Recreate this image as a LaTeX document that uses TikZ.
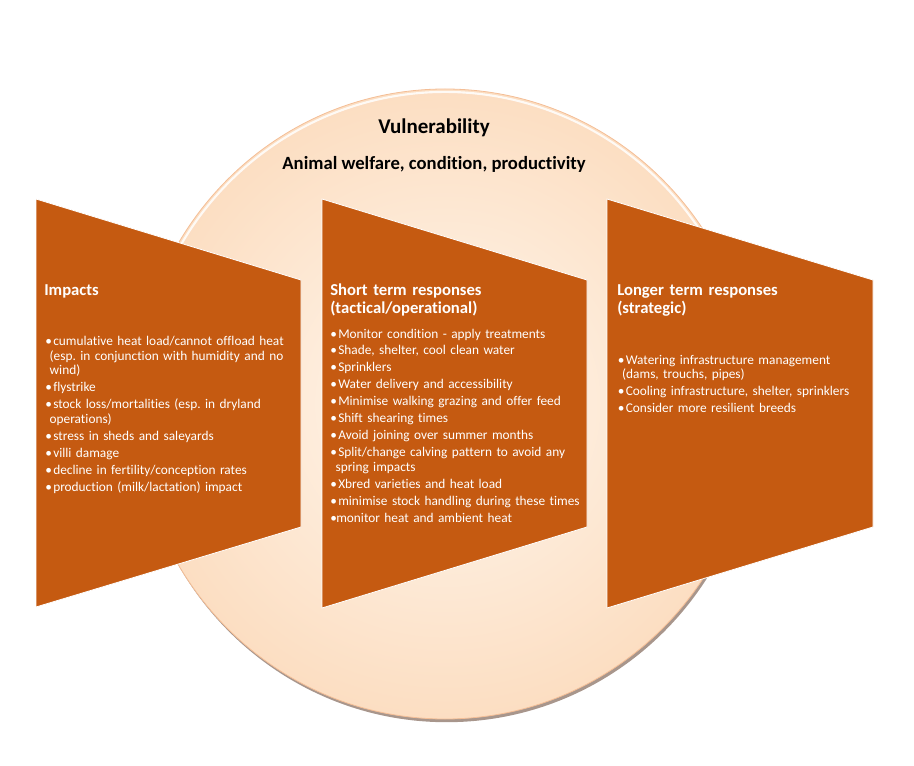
\documentclass[tikz,border=0pt]{standalone}
\usepackage{fontspec}
\setmainfont{Carlito}[Ligatures={TeX,NoCommon}]
\usepackage{xcolor}
\usepackage{tikz}
\usetikzlibrary{positioning,shadows}

\definecolor{boxorange}{HTML}{C55A11}
\definecolor{discin}{HTML}{FFF7EE}
\definecolor{discout}{HTML}{FCDEC2}
\definecolor{discrim}{HTML}{F4BE96}
\definecolor{discshadow}{HTML}{6E5040}

\newcommand{\bulletsize}{\fontsize{10pt}{11pt}\selectfont\frenchspacing}
\newcommand{\headsize}{\fontsize{12.5pt}{13.7pt}\selectfont\bfseries}
\newcommand{\cont}{\hspace*{3.3pt}}
\newcommand{\nextitem}{\\[1.7pt]}
\newcommand{\dotitem}{\makebox[6pt][l]{•}}
\newcommand{\tightdot}{\makebox[4.5pt][l]{•}}

\begin{document}
\begin{tikzpicture}[x=0.75pt, y=-0.75pt,
    panel/.style={fill=boxorange, draw=white, line width=0.6pt},
    heading/.style={anchor=north west, inner sep=0pt, text=white, align=left, text width=200pt, font=\headsize},
    items/.style={anchor=north west, inner sep=0pt, text=white, align=left, text width=205pt, font=\bulletsize},
    toptext/.style={anchor=base, inner sep=0pt, font=\bfseries}]
    \useasboundingbox (0,0) rectangle (914,766);

    % Disc
    \shade[inner color=discin, outer color=discout,
        drop shadow={shadow xshift=1.2pt, shadow yshift=-2.4pt, fill=discshadow, opacity=0.6}]
        (445,404) ellipse [x radius=310, y radius=315];
    \draw[discrim, line width=0.6pt] (445,404) ellipse [x radius=310, y radius=315];
    \draw[white, line width=1.6pt, opacity=0.85] (445,404) ++(-160:307 and 312)
        arc [start angle=-160, end angle=-20, x radius=307, y radius=312];

    % Panels
    \fill[panel] (36,199) -- (301,280) -- (301,527) -- (36,607) -- cycle;
    \fill[panel] (322,199) -- (587,280) -- (587,527) -- (322,608) -- cycle;
    \fill[panel] (607,199) -- (873,280) -- (873,527) -- (607,608) -- cycle;

    % Labels
    \node[toptext, font=\fontsize{15.75pt}{18pt}\selectfont\bfseries] (vuln) at (434,133.3) {Vulnerability};
    \node[toptext, font=\fontsize{14pt}{16pt}\selectfont\bfseries] (welfare) at (434,169.3) {Animal welfare, condition, productivity};

    \node[heading] (impacthead) at (44,282.2) {\strut Impacts};
    \node[heading] (shorthead) at (330,282.2) {\strut Short term responses\\(tactical/operational)};
    \node[heading] (longhead) at (617,282.2) {\strut Longer term responses\\(strategic)};

    % Lists
    \node[items] (impactlist) at (45,335) {\strut\dotitem cumulative heat load/cannot offload heat\\
        \cont(esp. in conjunction with humidity and no\\
        \cont wind)\nextitem
        \dotitem flystrike\nextitem
        \dotitem stock loss/mortalities (esp. in dryland\\
        \cont operations)\nextitem
        \dotitem stress in sheds and saleyards\nextitem
        \dotitem villi damage\nextitem
        \dotitem decline in fertility/conception rates\nextitem
        \dotitem production (milk/lactation) impact};
    \node[items] (shortlist) at (330,327.5) {\strut\dotitem Monitor condition - apply treatments\nextitem
        \dotitem Shade, shelter, cool clean water\nextitem
        \dotitem Sprinklers\nextitem
        \dotitem Water delivery and accessibility\nextitem
        \dotitem Minimise walking grazing and offer feed\nextitem
        \dotitem Shift shearing times\nextitem
        \dotitem Avoid joining over summer months\nextitem
        \dotitem Split/change calving pattern to avoid any\\
        \hspace*{4pt}spring impacts\nextitem
        \dotitem Xbred varieties and heat load\nextitem
        \dotitem minimise stock handling during these times\nextitem
        \tightdot monitor heat and ambient heat};
    \node[items] (longlist) at (617.5,353.5) {\strut\dotitem Watering infrastructure management\\
        \cont(dams, trouchs, pipes)\nextitem
        \dotitem Cooling infrastructure, shelter, sprinklers\nextitem
        \dotitem Consider more resilient breeds};
\end{tikzpicture}
\end{document}
